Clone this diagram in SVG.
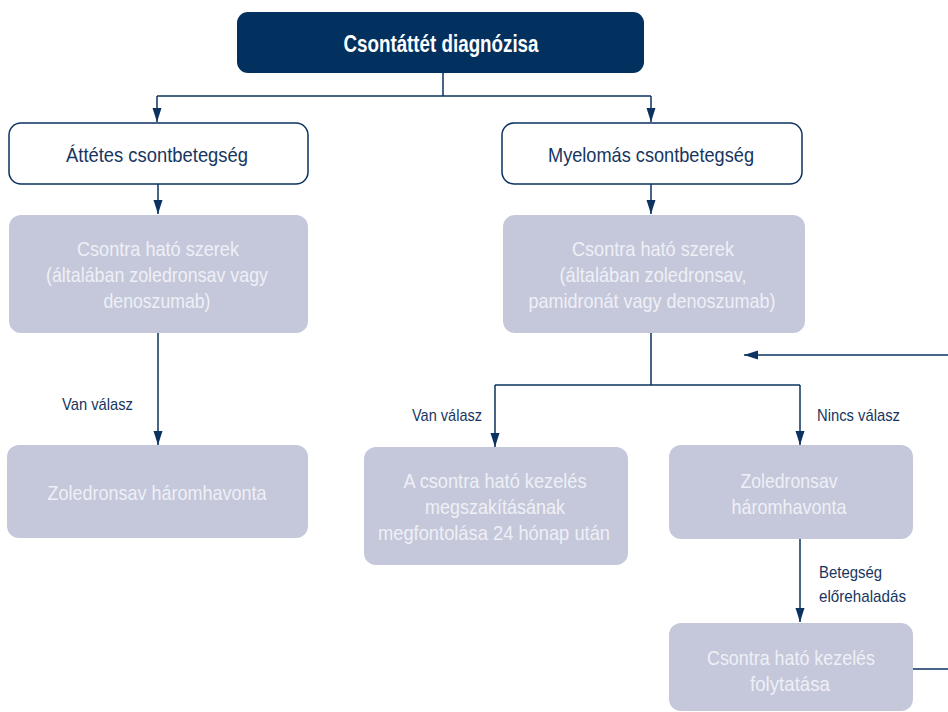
<svg xmlns="http://www.w3.org/2000/svg" width="948" height="712" viewBox="0 0 948 712">
<style>
text{font-family:"Liberation Sans",Arial,sans-serif;text-anchor:middle}
.top{fill:#03315f}
.outl{fill:#fff;stroke:#0b3260;stroke-width:1.5}
.gray{fill:#c5c8da}
.tt{fill:#fff;font-size:23px;font-weight:bold}
.ot{fill:#17365f;font-size:21px}
.gt{fill:#eef0f7;font-size:21px}
.lb{fill:#17365f;font-size:17px;text-anchor:start}
.c{fill:none;stroke:#0b3260;stroke-width:1.5}
</style>
<defs>
<marker id="ah" viewBox="0 0 14 10" refX="14" refY="5" markerWidth="14" markerHeight="10" markerUnits="userSpaceOnUse" orient="auto">
<path d="M0,0.5 L14,5 L0,9.5 Z" fill="#0b3260"/>
</marker>
</defs>
<g id="connectors">
<path class="c" d="M443,73 V96"/>
<path class="c" d="M157,96 H651"/>
<path class="c" d="M157,96 V122" marker-end="url(#ah)"/>
<path class="c" d="M651,96 V122" marker-end="url(#ah)"/>
<path class="c" d="M158,184 V214" marker-end="url(#ah)"/>
<path class="c" d="M651,184 V214" marker-end="url(#ah)"/>
<path class="c" d="M158,333 V445" marker-end="url(#ah)"/>
<path class="c" d="M651,333 V385"/>
<path class="c" d="M495,385 H800"/>
<path class="c" d="M495,385 V447" marker-end="url(#ah)"/>
<path class="c" d="M800,385 V445" marker-end="url(#ah)"/>
<path class="c" d="M800,539 V622" marker-end="url(#ah)"/>
<path class="c" d="M913,669 H948"/>
<path class="c" d="M948,355 H744" marker-end="url(#ah)"/>
<text class="lb" x="62" y="410" textLength="71" lengthAdjust="spacingAndGlyphs">Van válasz</text>
<text class="lb" x="412" y="421" textLength="70" lengthAdjust="spacingAndGlyphs">Van válasz</text>
<text class="lb" x="817" y="421" textLength="83" lengthAdjust="spacingAndGlyphs">Nincs válasz</text>
<text class="lb" x="819" y="578" textLength="63" lengthAdjust="spacingAndGlyphs">Betegség</text>
<text class="lb" x="819" y="602" textLength="87" lengthAdjust="spacingAndGlyphs">előrehaladás</text>
</g>
<g id="n0">
<rect class="top" x="237" y="12" width="407" height="61" rx="11"/>
<text class="tt" x="441" y="52" textLength="195" lengthAdjust="spacingAndGlyphs">Csontáttét diagnózisa</text>
</g>
<g id="n1">
<rect class="outl" x="9" y="123" width="299" height="61" rx="12"/>
<text class="ot" x="157" y="162" textLength="182" lengthAdjust="spacingAndGlyphs">Áttétes csontbetegség</text>
</g>
<g id="n2">
<rect class="outl" x="502" y="123" width="300" height="61" rx="12"/>
<text class="ot" x="651" y="162" textLength="206" lengthAdjust="spacingAndGlyphs">Myelomás csontbetegség</text>
</g>
<g id="n3">
<rect class="gray" x="9" y="215" width="299" height="118" rx="12"/>
<text class="gt" x="158" y="256" textLength="162" lengthAdjust="spacingAndGlyphs">Csontra ható szerek</text>
<text class="gt" x="157" y="282" textLength="222" lengthAdjust="spacingAndGlyphs">(általában zoledronsav vagy</text>
<text class="gt" x="157" y="308" textLength="107" lengthAdjust="spacingAndGlyphs">denoszumab)</text>
</g>
<g id="n4">
<rect class="gray" x="503" y="215" width="302" height="118" rx="12"/>
<text class="gt" x="653" y="256" textLength="162" lengthAdjust="spacingAndGlyphs">Csontra ható szerek</text>
<text class="gt" x="653" y="282" textLength="187" lengthAdjust="spacingAndGlyphs">(általában zoledronsav,</text>
<text class="gt" x="652" y="308" textLength="247" lengthAdjust="spacingAndGlyphs">pamidronát vagy denoszumab)</text>
</g>
<g id="n5">
<rect class="gray" x="7" y="445" width="301" height="93" rx="12"/>
<text class="gt" x="157" y="500" textLength="219" lengthAdjust="spacingAndGlyphs">Zoledronsav háromhavonta</text>
</g>
<g id="n6">
<rect class="gray" x="364" y="447" width="264" height="118" rx="12"/>
<text class="gt" x="495" y="488" textLength="183" lengthAdjust="spacingAndGlyphs">A csontra ható kezelés</text>
<text class="gt" x="495" y="514" textLength="140" lengthAdjust="spacingAndGlyphs">megszakításának</text>
<text class="gt" x="494" y="540" textLength="232" lengthAdjust="spacingAndGlyphs">megfontolása 24 hónap után</text>
</g>
<g id="n7">
<rect class="gray" x="669" y="445" width="244" height="94" rx="12"/>
<text class="gt" x="789" y="488" textLength="97" lengthAdjust="spacingAndGlyphs">Zoledronsav</text>
<text class="gt" x="789" y="514" textLength="115" lengthAdjust="spacingAndGlyphs">háromhavonta</text>
</g>
<g id="n8">
<rect class="gray" x="669" y="623" width="244" height="88" rx="12"/>
<text class="gt" x="791" y="665" textLength="168" lengthAdjust="spacingAndGlyphs">Csontra ható kezelés</text>
<text class="gt" x="790" y="691" textLength="80" lengthAdjust="spacingAndGlyphs">folytatása</text>
</g>
</svg>
